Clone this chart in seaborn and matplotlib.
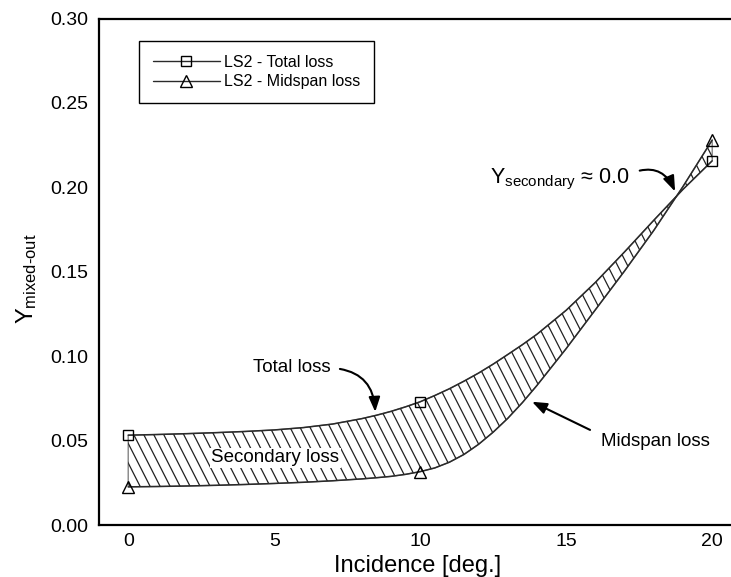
import numpy as np
import pandas as pd
import matplotlib
matplotlib.use("Agg")
import matplotlib.pyplot as plt
import seaborn as sns
from matplotlib.lines import Line2D
from matplotlib.patches import PathPatch
from matplotlib.collections import LineCollection
from matplotlib.ticker import MultipleLocator, FormatStrFormatter

# ---------------- data ----------------
incidence = [0, 1, 2, 3, 4, 5, 6, 7, 8, 8.5, 9, 9.5, 10, 10.5, 11, 11.5,
             12, 12.5, 13, 13.5, 14, 15, 16, 17, 18, 19, 20]
total_loss_curve = [0.0532, 0.0536, 0.0541, 0.0547, 0.0554, 0.0563, 0.0577,
                    0.0598, 0.0630, 0.0650, 0.0673, 0.0700, 0.0730, 0.0767,
                    0.0807, 0.0852, 0.0900, 0.0953, 0.1010, 0.1068, 0.1130,
                    0.1272, 0.1437, 0.1618, 0.1805, 0.1988, 0.2157]
midspan_loss_curve = [0.0226, 0.0228, 0.0231, 0.0235, 0.0240, 0.0246, 0.0253,
                      0.0262, 0.0273, 0.0280, 0.0288, 0.0300, 0.0316, 0.0338,
                      0.0372, 0.0418, 0.0478, 0.0550, 0.0632, 0.0725, 0.0827,
                      0.1045, 0.1275, 0.1505, 0.1745, 0.2005, 0.2280]
measured_incidence = [0, 10, 20]
measured_total = [0.0532, 0.0730, 0.2157]
measured_midspan = [0.0225, 0.0316, 0.2280]
legend_labels = ["LS2 - Total loss", "LS2 - Midspan loss"]
x_ticks = [0, 5, 10, 15, 20]
y_ticks = [0.00, 0.05, 0.10, 0.15, 0.20, 0.25, 0.30]

df = pd.DataFrame({"incidence": incidence,
                   "total": total_loss_curve,
                   "midspan": midspan_loss_curve})

# ---------------- style ----------------
sns.set_style("white")
plt.rcParams["font.family"] = ["Liberation Sans", "DejaVu Sans"]
plt.rcParams["mathtext.fontset"] = "custom"
plt.rcParams["mathtext.rm"] = "Liberation Sans"
plt.rcParams["mathtext.it"] = "Liberation Sans:italic"
plt.rcParams["mathtext.bf"] = "Liberation Sans:bold"
plt.rcParams["text.color"] = "black"
plt.rcParams["axes.labelcolor"] = "black"
plt.rcParams["xtick.color"] = "black"
plt.rcParams["ytick.color"] = "black"

W, H = 731, 577
fig = plt.figure(figsize=(W / 100, H / 100), dpi=100)
fig.patch.set_facecolor("white")
ax = fig.add_axes([99 / W, 52 / H, 642.4 / W, 506.5 / H])
ax.set_facecolor("white")
ax.set_xlim(-1, 21)
ax.set_ylim(0, 0.30)

# ---------------- band (secondary loss) ----------------
poly = ax.fill_between(df["incidence"], df["midspan"], df["total"],
                       facecolor="none", edgecolor="#777777", lw=0.9, zorder=2)
clip = PathPatch(poly.get_paths()[0], transform=ax.transData,
                 facecolor="none", edgecolor="none")
ax.add_patch(clip)

# custom hatching (steep backslash lines, constant angle on screen)
p0 = ax.transData.transform((0, 0))
p1 = ax.transData.transform((1, 1))
px_x = p1[0] - p0[0]
px_y = p1[1] - p0[1]
angle = np.deg2rad(63)
slope = np.tan(angle) * px_x / px_y          # data-y per data-x
step = 10.0 / px_x                              # ~10 px apart horizontally
span = 0.30 / slope
segs = []
for c in np.arange(-2 - span, 22, step):
    segs.append([(c, 0.30), (c + span, 0.0)])
lc = LineCollection(segs, colors="#222222", linewidths=0.9, zorder=2)
ax.add_collection(lc)
lc.set_clip_path(clip)

# ---------------- curves ----------------
sns.lineplot(data=df, x="incidence", y="total", color="#2a2a2a", lw=1.1,
             ax=ax, zorder=3, legend=False)
sns.lineplot(data=df, x="incidence", y="midspan", color="#2a2a2a", lw=1.1,
             ax=ax, zorder=3, legend=False)

ax.plot(measured_incidence, measured_total, ls="none", marker="s", ms=7.5,
        mfc="none", mec="black", mew=1.0, zorder=4, clip_on=False)
ax.plot(measured_incidence, measured_midspan, ls="none", marker="^", ms=8,
        mfc="none", mec="black", mew=1.0, zorder=4, clip_on=False)

# ---------------- axes ----------------
ax.set_xticks(x_ticks)
ax.set_yticks(y_ticks)
ax.xaxis.set_minor_locator(MultipleLocator(1))
ax.yaxis.set_minor_locator(MultipleLocator(0.01))
ax.yaxis.set_major_formatter(FormatStrFormatter("%.2f"))
ax.tick_params(which="major", direction="in", length=9.5, width=1.6,
               labelsize=14, colors="black", top=False, right=False)
ax.tick_params(axis="x", which="major", pad=6)
ax.tick_params(axis="y", which="major", pad=7.5)
ax.tick_params(which="minor", direction="in", length=5.8, width=0.8,
               colors="black", top=False, right=False)
for s in ["left", "bottom", "top"]:
    ax.spines[s].set_visible(True)
    ax.spines[s].set_linewidth(1.6)
    ax.spines[s].set_color("black")
ax.spines["right"].set_visible(False)

ax.set_xlabel("Incidence [deg.]", fontsize=17, color="black")
ax.xaxis.set_label_coords(0.4966, -0.06)
ax.set_ylabel("Y$_{\\mathregular{mixed\u2010out}}$", fontsize=17, color="black")
ax.yaxis.set_label_coords(-0.093, 0.487)

# ---------------- legend ----------------
handles = [
    Line2D([], [], color="#2a2a2a", lw=1.0, marker="s", ms=7.5,
           mfc="none", mec="black", mew=1.0),
    Line2D([], [], color="#2a2a2a", lw=1.0, marker="^", ms=8,
           mfc="none", mec="black", mew=1.0),
]
leg = ax.legend(handles, legend_labels, loc="upper left",
                bbox_to_anchor=(0.0623, 0.9556), borderaxespad=0,
                fontsize=11.5, handlelength=4.2, handletextpad=0.25,
                labelspacing=0.3, borderpad=0.85, fancybox=False,
                framealpha=1, edgecolor="black", numpoints=1)
leg.get_frame().set_linewidth(1.0)
for t in leg.get_texts():
    t.set_color("black")

# ---------------- annotations ----------------
ax.annotate("Total loss", xy=(8.46, 0.067), xytext=(5.62, 0.093),
            ha="center", va="center", fontsize=13.5, color="black",
            arrowprops=dict(arrowstyle="-|>,head_length=0.65,head_width=0.25",
                            connectionstyle="arc3,rad=-0.45", color="black",
                            lw=1.5, relpos=(1, 0.5), shrinkA=4, shrinkB=0))
ax.annotate("Midspan loss", xy=(13.83, 0.073), xytext=(18.05, 0.0492),
            ha="center", va="center", fontsize=13.5, color="black",
            arrowprops=dict(arrowstyle="-|>,head_length=0.65,head_width=0.25",
                            color="black", lw=1.5, relpos=(0, 0.9),
                            shrinkA=6, shrinkB=0))
ax.annotate("Y$_{\\mathregular{secondary}}$ \u2248 0.0", xy=(18.73, 0.1975),
            xytext=(12.4, 0.2026), ha="left", va="baseline", fontsize=15.5,
            color="black",
            arrowprops=dict(arrowstyle="-|>,head_length=0.6,head_width=0.22",
                            connectionstyle="arc3,rad=-0.5", color="black",
                            lw=1.5, relpos=(1, 0.7), shrinkA=5, shrinkB=0))
ax.text(5.03, 0.0397, "Secondary loss", ha="center", va="center",
        fontsize=13.5, zorder=5, color="black",
        bbox=dict(boxstyle="square,pad=0.08", facecolor="white",
                  edgecolor="none"))

fig.savefig("out.png", dpi=100, facecolor="white")
